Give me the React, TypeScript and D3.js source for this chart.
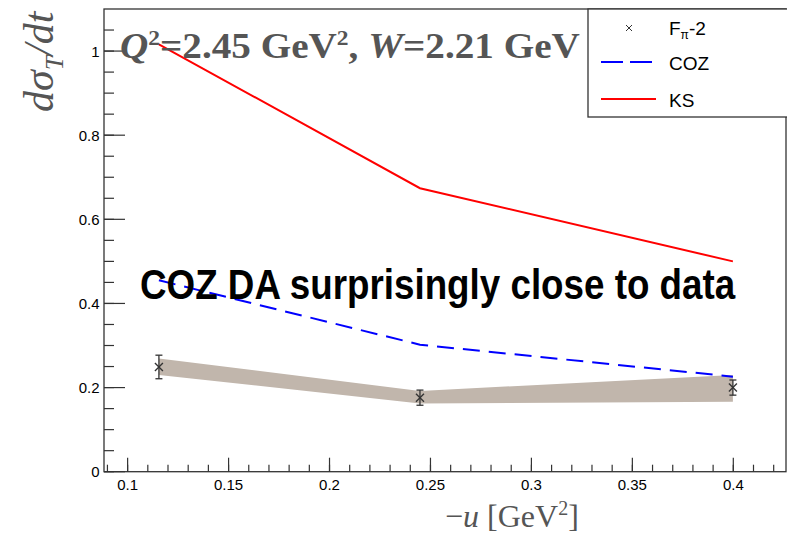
import React, { useLayoutEffect, useRef, useState } from "react";
import * as d3 from "d3";

// ---- data ----
const uValues = [0.1155, 0.2448, 0.3998];
const dataValues = [0.249, 0.176, 0.2];
const dataErrors = [0.028, 0.018, 0.018];
const bandLow = [0.23, 0.162, 0.166];
const bandHigh = [0.269, 0.192, 0.23];
const cozValues = [0.455, 0.302, 0.226];
const ksValues = [1.016, 0.674, 0.5];

const xMajorTicks = [0.1, 0.15, 0.2, 0.25, 0.3, 0.35, 0.4];
const xTickLabels = ["0.1", "0.15", "0.2", "0.25", "0.3", "0.35", "0.4"];
const xMinorTicks = d3.range(9, 43).map((v) => v / 100);
const yMajorTicks = [0, 0.2, 0.4, 0.6, 0.8, 1];
const yTickLabels = ["0", "0.2", "0.4", "0.6", "0.8", "1"];
const yMinorTicks = d3.range(0, 22).map((v) => v * 0.05);

const legendLabels = ["KS", "COZ"];
const annotation = "COZ DA surprisingly close to data";

const W = 787;
const H = 542;
const L = 104;
const R = 786;
const T = 9;
const B = 471.7;

export default function App() {
  const x = d3.scaleLinear().domain([0.0883, 0.4261]).range([L, R]);
  const y = d3.scaleLinear().domain([0, 1.1]).range([B, T]);

  const annRef = useRef<SVGTextElement>(null);
  const titleRef = useRef<SVGTextElement>(null);
  const [annScale, setAnnScale] = useState(0.76);
  const [titleScale, setTitleScale] = useState(1);

  useLayoutEffect(() => {
    if (annRef.current) {
      const w = annRef.current.getBBox().width;
      if (w > 0) setAnnScale(596 / w);
    }
    if (titleRef.current) {
      const w = titleRef.current.getBBox().width;
      if (w > 0) setTitleScale(460 / w);
    }
  }, []);

  const line = d3
    .line<[number, number]>()
    .x((d) => x(d[0]))
    .y((d) => y(d[1]));

  const area = d3
    .area<number>()
    .x((_, i) => x(uValues[i]))
    .y0((_, i) => y(bandLow[i]))
    .y1((_, i) => y(bandHigh[i]));

  const ksPath = line(uValues.map((u, i) => [u, ksValues[i]]));
  const cozPath = line(uValues.map((u, i) => [u, cozValues[i]]));
  const bandPath = area(uValues);

  const sans = "'Liberation Sans', Arial, Helvetica, sans-serif";
  const serif = "'Liberation Serif', 'Times New Roman', serif";
  const axisCol = "#333";
  const titleCol = "#555555";

  return (
    <svg
      width={W}
      height={H}
      style={{ position: "absolute", left: 0, top: 0, background: "#fff" }}
    >
      <rect x={0} y={0} width={W} height={H} fill="#fff" />
      {/* band */}
      <path d={bandPath || ""} fill="#c1b6ac" stroke="none" />
      {/* KS */}
      <path d={ksPath || ""} fill="none" stroke="#ff0000" strokeWidth={2} />
      {/* COZ */}
      <path
        d={cozPath || ""}
        fill="none"
        stroke="#0000ff"
        strokeWidth={2}
        strokeDasharray="17 9"
      />
      {/* data points */}
      {uValues.map((u, i) => {
        const cx = x(u);
        const cy = y(dataValues[i]);
        const yt = y(dataValues[i] + dataErrors[i]);
        const yb = y(dataValues[i] - dataErrors[i]);
        const s = 4;
        return (
          <g key={i} stroke="#333" strokeWidth={1.3}>
            <line x1={cx} x2={cx} y1={yt} y2={yb} />
            <line x1={cx - 3.5} x2={cx + 3.5} y1={yt} y2={yt} />
            <line x1={cx - 3.5} x2={cx + 3.5} y1={yb} y2={yb} />
            <line x1={cx - s} x2={cx + s} y1={cy - s} y2={cy + s} />
            <line x1={cx - s} x2={cx + s} y1={cy + s} y2={cy - s} />
          </g>
        );
      })}

      {/* frame */}
      <rect
        x={L}
        y={T}
        width={R - L}
        height={B - T}
        fill="none"
        stroke={axisCol}
        strokeWidth={1.3}
      />
      {/* x ticks */}
      {xMinorTicks.map((t) => (
        <line
          key={"xm" + t}
          x1={x(t)}
          x2={x(t)}
          y1={B}
          y2={B - 7}
          stroke={axisCol}
          strokeWidth={1.2}
        />
      ))}
      {xMajorTicks.map((t, i) => (
        <g key={"xM" + t}>
          <line
            x1={x(t)}
            x2={x(t)}
            y1={B}
            y2={B - 14}
            stroke={axisCol}
            strokeWidth={1.2}
          />
          <text
            x={x(t)}
            y={490}
            textAnchor="middle"
            fontFamily={sans}
            fontSize={15}
            fill="#000"
          >
            {xTickLabels[i]}
          </text>
        </g>
      ))}
      {/* y ticks */}
      {yMinorTicks.map((t) => (
        <line
          key={"ym" + t}
          x1={L}
          x2={L + 10}
          y1={y(t)}
          y2={y(t)}
          stroke={axisCol}
          strokeWidth={1.2}
        />
      ))}
      {yMajorTicks.map((t, i) => (
        <g key={"yM" + t}>
          <line
            x1={L}
            x2={L + 21}
            y1={y(t)}
            y2={y(t)}
            stroke={axisCol}
            strokeWidth={1.2}
          />
          <text
            x={99.5}
            y={y(t) + 5.5}
            textAnchor="end"
            fontFamily={sans}
            fontSize={15}
            fill="#000"
          >
            {yTickLabels[i]}
          </text>
        </g>
      ))}

      {/* title text */}
      <g transform={`translate(120,58) scale(${titleScale},1)`}>
        <text
          ref={titleRef}
          x={0}
          y={0}
          fontFamily={serif}
          fontWeight="bold"
          fontSize={35}
          fill={titleCol}
        >
          <tspan fontStyle="italic">Q</tspan>
          <tspan fontSize={21} dy={-13}>2</tspan>
          <tspan dy={13}>=2.45 GeV</tspan>
          <tspan fontSize={21} dy={-13}>2</tspan>
          <tspan dy={13}>, </tspan>
          <tspan fontStyle="italic">W</tspan>
          <tspan>=2.21 GeV</tspan>
        </text>
      </g>

      {/* annotation */}
      <g transform={`translate(140,299) scale(${annScale},1)`}>
        <text
          ref={annRef}
          x={0}
          y={0}
          fontFamily={sans}
          fontWeight="bold"
          fontSize={43}
          fill="#000"
        >
          {annotation}
        </text>
      </g>

      {/* y axis title */}
      <text
        transform="translate(53,112) rotate(-90)"
        fontFamily={serif}
        fontStyle="italic"
        fontSize={42}
        fill={titleCol}
      >
        <tspan>dσ</tspan>
        <tspan fontSize={26} dy={10}>T</tspan>
        <tspan dy={-10}>/dt</tspan>
      </text>

      {/* x axis title */}
      <text x={445} y={527} fontFamily={serif} fontSize={32} fill={titleCol}>
        <tspan>−</tspan>
        <tspan fontStyle="italic">u</tspan>
        <tspan> [GeV</tspan>
        <tspan fontSize={20} dy={-12}>2</tspan>
        <tspan dy={12}>]</tspan>
      </text>

      {/* legend */}
      <rect
        x={588}
        y={T}
        width={210}
        height={108}
        fill="#fff"
        stroke={axisCol}
        strokeWidth={1.3}
      />
      <g stroke="#333" strokeWidth={1}>
        <line x1={626} x2={632} y1={25} y2={31} />
        <line x1={626} x2={632} y1={31} y2={25} />
      </g>
      <text x={669} y={35} fontFamily={sans} fontSize={19} fill="#000">
        F<tspan fontSize={12} dy={4}>π</tspan>
        <tspan dy={-4}>-2</tspan>
      </text>
      <line
        x1={601}
        x2={653}
        y1={62}
        y2={62}
        stroke="#0000ff"
        strokeWidth={2}
        strokeDasharray="22 7"
      />
      <text x={669} y={70} fontFamily={sans} fontSize={19} fill="#000">
        {legendLabels[1]}
      </text>
      <line x1={601} x2={656} y1={99} y2={99} stroke="#ff0000" strokeWidth={2} />
      <text x={669} y={107} fontFamily={sans} fontSize={19} fill="#000">
        {legendLabels[0]}
      </text>
    </svg>
  );
}
